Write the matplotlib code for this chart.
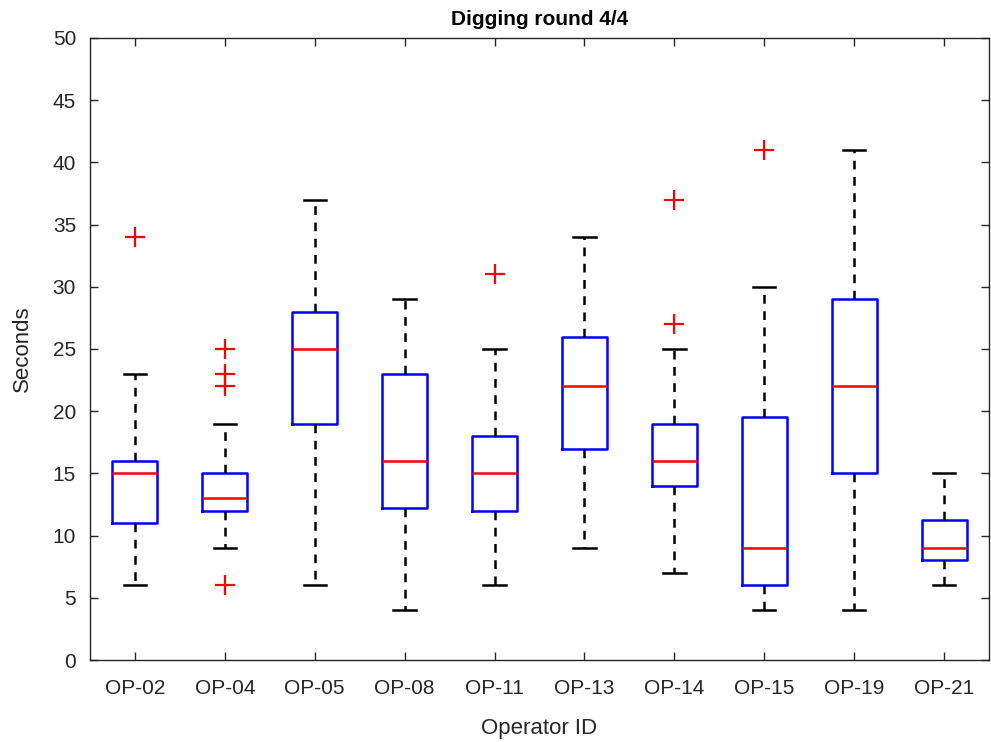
import matplotlib.pyplot as plt

plt.rcParams['font.family'] = ['Liberation Sans', 'DejaVu Sans']

operators = ["OP-02", "OP-04", "OP-05", "OP-08", "OP-11",
             "OP-13", "OP-14", "OP-15", "OP-19", "OP-21"]
q1 = [11, 12, 19, 12.25, 12, 17, 14, 6, 15, 8]
med = [15, 13, 25, 16, 15, 22, 16, 9, 22, 9]
q3 = [16, 15, 28, 23, 18, 26, 19, 19.5, 29, 11.25]
whislo = [6, 9, 6, 4, 6, 9, 7, 4, 4, 6]
whishi = [23, 19, 37, 29, 25, 34, 25, 30, 41, 15]
fliers = [[34], [25, 23, 22, 6], [], [], [31], [], [37, 27], [41], [], []]

stats = []
for i, name in enumerate(operators):
    stats.append({"label": name, "q1": q1[i], "med": med[i], "q3": q3[i],
                  "whislo": whislo[i], "whishi": whishi[i], "fliers": fliers[i]})

fig = plt.figure(figsize=(9.91, 7.42), dpi=100)
ax = fig.add_axes([0.0908, 0.1105, 0.9072, 0.8383])

ax.bxp(stats, positions=range(1, len(operators) + 1), widths=0.5,
       showfliers=True,
       boxprops=dict(color="blue", linewidth=1.8),
       medianprops=dict(color="red", linewidth=1.8),
       whiskerprops=dict(color="black", linewidth=1.8, linestyle=(0, (3.5, 3))),
       capprops=dict(color="black", linewidth=1.8),
       capwidths=0.25,
       flierprops=dict(marker="+", markeredgecolor="red", markersize=15,
                       markeredgewidth=1.6, linestyle="none"))

ax.set_xlim(0.5, len(operators) + 0.5)
ax.set_ylim(0, 50)
ax.set_yticks(range(0, 51, 5))
ax.set_xticks(range(1, len(operators) + 1))
ax.set_xticklabels(operators)
ax.tick_params(direction="in", top=True, right=True, length=6,
               labelsize=15, colors="#262626", width=1)
ax.tick_params(axis="x", pad=14)
ax.tick_params(axis="y", pad=10)
for s in ax.spines.values():
    s.set_color("#262626")
    s.set_linewidth(1)

ax.set_title("Digging round 4/4", fontsize=15, fontweight="bold", pad=9)
ax.set_xlabel("Operator ID", fontsize=16, color="#262626", labelpad=14)
ax.set_ylabel("Seconds", fontsize=16, color="#262626", labelpad=14)

fig.savefig("out.png", dpi=100)
